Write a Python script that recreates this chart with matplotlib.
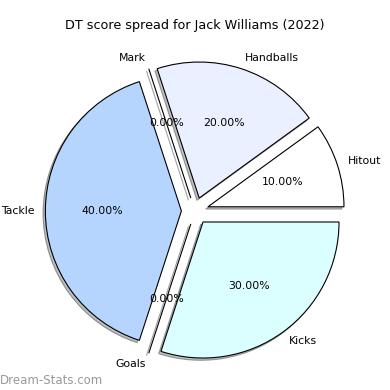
import matplotlib
matplotlib.use("Agg")
import matplotlib.pyplot as plt

labels = ["Hitout", "Handballs", "Mark", "Tackle", "Goals", "Kicks"]
values = [10, 20, 0, 40, 0, 30]
colors = ["#ffffff", "#eaf0ff", "#eaf0ff", "#b5d5ff", "#b5d5ff", "#dbffff"]
explode = [0.1] * len(values)

fig = plt.figure(figsize=(3.9, 3.9), dpi=100)
ax = fig.add_axes([0.064, 0.023, 0.872, 0.872])
ax.pie(values, labels=labels, colors=colors, explode=explode,
       shadow={"ox": -0.012, "oy": -0.012, "facecolor": "#808080"},
       autopct="%1.2f%%", startangle=0, labeldistance=1.08, pctdistance=0.58,
       wedgeprops={"edgecolor": "black", "linewidth": 0.8},
       textprops={"fontsize": 7.8})
ax.set_aspect("equal")
fig.text(0.5, 1 - 25 / 390, "DT score spread for Jack Williams (2022)",
         fontsize=9.2, ha="center", va="center")
fig.text(0.0, 1 - 380 / 390, "Dream-Stats.com", color="#999999",
         fontsize=8.5, ha="left", va="center")
fig.savefig("out.png", dpi=100)
